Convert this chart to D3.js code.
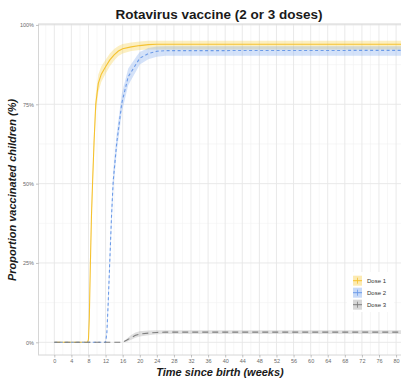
<!DOCTYPE html>
<html><head><meta charset="utf-8">
<script src="https://cdn.jsdelivr.net/npm/d3@7"></script>
<style>html,body{margin:0;padding:0;background:#fff;} svg{display:block;font-family:"Liberation Sans",Arial,sans-serif;}</style>
</head><body>
<script>
// ---- data ----
const xTicks = [0,4,8,12,16,20,24,28,32,36,40,44,48,52,56,60,64,68,72,76,80];
const yTicks = [0,0.25,0.5,0.75,1];
const yTickLabels = ["0%","25%","50%","75%","100%"];
const seriesNames = ["Dose 1","Dose 2","Dose 3"];

const dose1Weeks = [0, 7.8, 8, 8.2, 8.4, 8.7, 9, 9.3, 9.7, 10.3, 11, 12, 13, 14, 15, 16, 18, 20, 22, 24, 84];
const dose1Value = [0, 0, 1, 8, 22, 40, 52, 63, 75, 81.6, 84.5, 86.8, 89, 90.6, 91.8, 92.5, 93.1, 93.5, 93.8, 93.9, 93.9];
const dose1Low   = [0, 0, 0.3, 5.5, 19, 37, 49, 60, 72, 78.8, 82, 84.6, 87, 88.8, 90.2, 91, 91.8, 92.1, 92.3, 92.3, 92.3];
const dose1High  = [0, 0, 1.8, 10.5, 25, 43, 55, 66, 78, 84.4, 87, 89, 91, 92.4, 93.4, 94, 94.5, 94.8, 95, 95, 95];

const dose2Weeks = [0, 12, 12.3, 12.6, 13, 13.4, 13.8, 14.6, 15.8, 17.3, 19.3, 20, 22, 24, 26, 84];
const dose2Value = [0, 0, 3, 12, 26, 40, 51, 62.7, 75.4, 83.7, 88, 89.5, 91, 91.7, 91.9, 92];
const dose2Low   = [0, 0, 1.5, 9.5, 23, 37, 48, 59.7, 72.5, 81, 85.8, 87.5, 89.2, 90, 90.3, 90.3];
const dose2High  = [0, 0, 4.5, 14.5, 29, 43, 54, 65.7, 78.3, 86.3, 90.2, 91.5, 92.7, 93.2, 93.3, 93.3];

const dose3Weeks = [0, 16, 17, 18, 19, 20, 22, 24, 26, 84];
const dose3Value = [0, 0, 0.7, 1.5, 2.2, 2.6, 2.9, 3.1, 3.2, 3.2];
const dose3Low   = [0, 0, 0.2, 0.8, 1.4, 1.8, 2.2, 2.5, 2.6, 2.6];
const dose3High  = [0, 0, 1.2, 2.3, 3.1, 3.5, 3.7, 3.8, 3.8, 3.8];

// ---- styles ----
const lineColors = ["#F5C231", "#6C9BE8", "#7E7E7E"];
const ribbonColors = ["#F8D45C", "#8DB2EE", "#A6A6A6"];
const ribbonOpacity = [0.38, 0.38, 0.35];
const dashes = [null, "3,2.5", "6,4"];

const W = 401, H = 384;
const P = {left:38.5, right:401, top:24, bottom:355};

const svg = d3.select("body").append("svg").attr("width",W).attr("height",H);

const x = d3.scaleLinear().domain([-3.7, 81.15]).range([P.left, P.right]);
const y = d3.scaleLinear().domain([-0.04, 1.003]).range([P.bottom, P.top]);

svg.append("defs").append("clipPath").attr("id","clip")
  .append("rect").attr("x",P.left).attr("y",P.top).attr("width",P.right-P.left).attr("height",P.bottom-P.top);

// grid
const grid = svg.append("g");
const minorX = d3.range(-2, 84, 4);
const minorY = [0.125,0.375,0.625,0.875];
grid.selectAll(".mx").data(minorX).join("line")
  .attr("x1",d=>x(d)).attr("x2",d=>x(d)).attr("y1",P.top).attr("y2",P.bottom)
  .attr("stroke","#f1f1f1").attr("stroke-width",0.6);
grid.selectAll(".my").data(minorY).join("line")
  .attr("x1",P.left).attr("x2",P.right).attr("y1",d=>y(d)).attr("y2",d=>y(d))
  .attr("stroke","#f1f1f1").attr("stroke-width",0.6);
grid.selectAll(".Mx").data(xTicks).join("line")
  .attr("x1",d=>x(d)).attr("x2",d=>x(d)).attr("y1",P.top).attr("y2",P.bottom)
  .attr("stroke","#e6e6e6").attr("stroke-width",0.9);
grid.selectAll(".My").data(yTicks).join("line")
  .attr("x1",P.left).attr("x2",P.right).attr("y1",d=>y(d)).attr("y2",d=>y(d))
  .attr("stroke","#e6e6e6").attr("stroke-width",0.9);

// series
const series = [
  {w:dose1Weeks, v:dose1Value, lo:dose1Low, hi:dose1High},
  {w:dose2Weeks, v:dose2Value, lo:dose2Low, hi:dose2High},
  {w:dose3Weeks, v:dose3Value, lo:dose3Low, hi:dose3High}
].map(s => s.w.map((wk,i)=>({w:wk, v:s.v[i]/100, lo:s.lo[i]/100, hi:s.hi[i]/100})));

const plot = svg.append("g").attr("clip-path","url(#clip)");
const area = d3.area().x(d=>x(d.w)).y0(d=>y(d.lo)).y1(d=>y(d.hi));
const line = d3.line().x(d=>x(d.w)).y(d=>y(d.v));
series.forEach((s,i)=>{
  plot.append("path").attr("d",area(s)).attr("fill",ribbonColors[i]).attr("fill-opacity",ribbonOpacity[i]);
});
series.forEach((s,i)=>{
  plot.append("path").attr("d",line(s)).attr("fill","none").attr("stroke",lineColors[i])
    .attr("stroke-width",1.1).attr("stroke-dasharray",dashes[i]);
});

// panel border
svg.append("rect").attr("x",P.left).attr("y",P.top).attr("width",P.right-P.left+2).attr("height",P.bottom-P.top)
  .attr("fill","none").attr("stroke","#d6d6d6").attr("stroke-width",1);

// axes
const xAxis = d3.axisBottom(x).tickValues(xTicks).tickSize(2.5).tickPadding(2);
const gx = svg.append("g").attr("transform",`translate(0,${P.bottom})`).call(xAxis);
const yAxis = d3.axisLeft(y).tickValues(yTicks).tickFormat((d,i)=>yTickLabels[i]).tickSize(2.5).tickPadding(2);
const gy = svg.append("g").attr("transform",`translate(${P.left},0)`).call(yAxis);
[gx,gy].forEach(g=>{
  g.select(".domain").remove();
  g.selectAll(".tick line").attr("stroke","#9a9a9a").attr("stroke-width",0.6);
  g.selectAll(".tick text").attr("fill","#6b6b6b").style("font-size","5.5px").style("font-family","'Liberation Sans',Arial,sans-serif");
});

// titles
svg.append("text").attr("x",219).attr("y",19).attr("text-anchor","middle")
  .style("font-size","13.5px").style("font-weight","bold").attr("fill","#1a1a1a")
  .text("Rotavirus vaccine (2 or 3 doses)");
svg.append("text").attr("x",220).attr("y",376).attr("text-anchor","middle")
  .style("font-size","11px").style("font-weight","bold").style("font-style","italic").attr("fill","#1a1a1a")
  .text("Time since birth (weeks)");
svg.append("text").attr("transform","translate(16,190) rotate(-90)").attr("text-anchor","middle")
  .style("font-size","11px").style("font-weight","bold").style("font-style","italic").attr("fill","#1a1a1a")
  .text("Proportion vaccinated children (%)");

// legend
const lg = svg.append("g");
lg.append("rect").attr("x",347).attr("y",272).attr("width",47).attr("height",40).attr("fill","#fff");
seriesNames.forEach((name,i)=>{
  const cy = 280.7 + i*12;
  const kx = 353;
  lg.append("rect").attr("x",kx).attr("y",cy-5).attr("width",9).attr("height",10)
    .attr("fill",ribbonColors[i]).attr("fill-opacity",ribbonOpacity[i]+0.1);
  lg.append("line").attr("x1",kx).attr("x2",kx+9).attr("y1",cy).attr("y2",cy)
    .attr("stroke",lineColors[i]).attr("stroke-width",1);
  lg.append("line").attr("x1",kx+4.5).attr("x2",kx+4.5).attr("y1",cy-3).attr("y2",cy+3)
    .attr("stroke",lineColors[i]).attr("stroke-width",0.8);
  lg.append("text").attr("x",kx+14).attr("y",cy+2).style("font-size","6px").attr("fill","#333")
    .text(name);
});
</script>
</body></html>
